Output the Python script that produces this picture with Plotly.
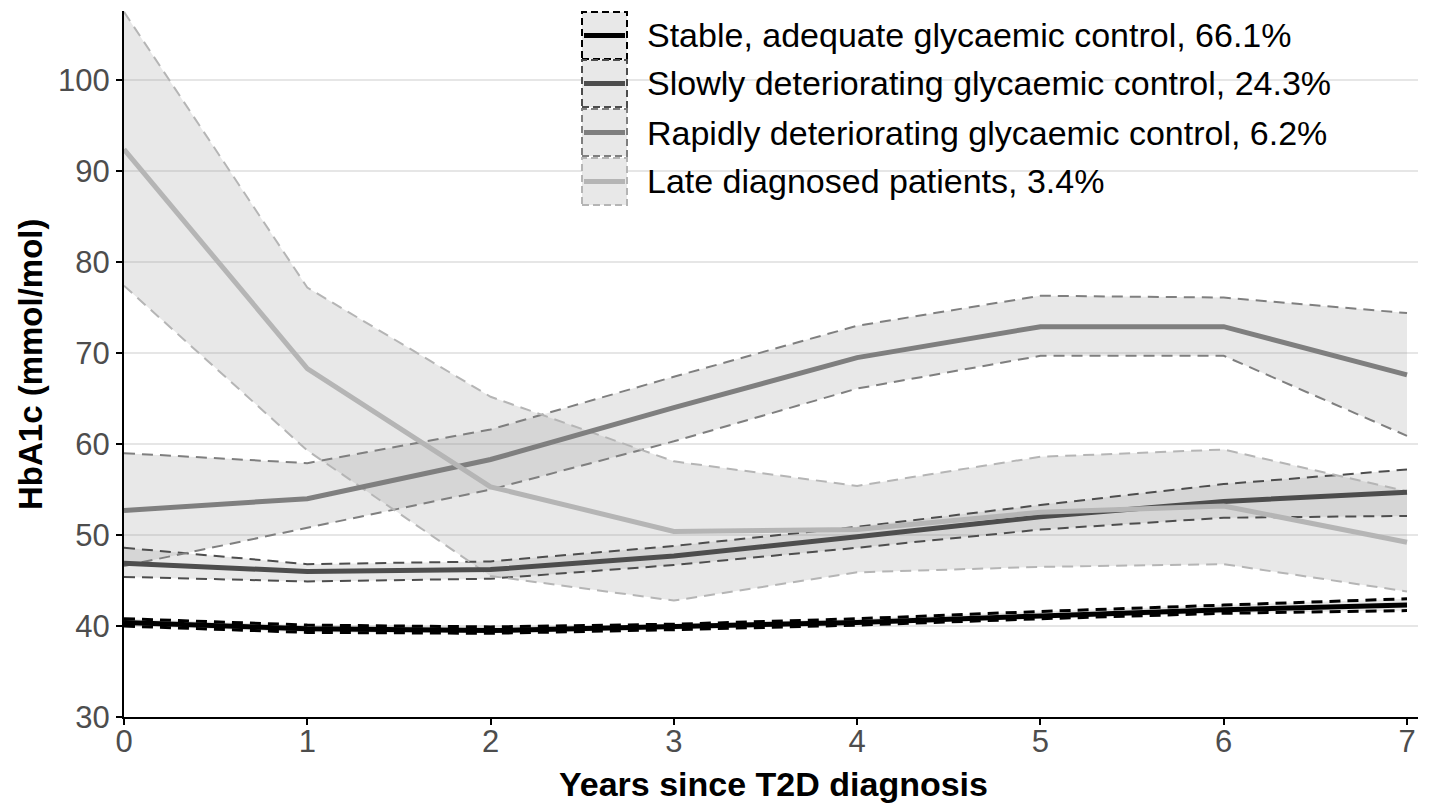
import plotly.graph_objects as go

years = [0, 1, 2, 3, 4, 5, 6, 7]

labels = [
    "Stable, adequate glycaemic control, 66.1%",
    "Slowly deteriorating glycaemic control, 24.3%",
    "Rapidly deteriorating glycaemic control, 6.2%",
    "Late diagnosed patients, 3.4%",
]
colors = ["#000000", "#4d4d4d", "#7f7f7f", "#b5b5b5"]

stable_mean = [40.4, 39.7, 39.5, 39.9, 40.4, 41.1, 41.8, 42.3]
stable_upper = [40.8, 40.1, 39.9, 40.2, 40.8, 41.6, 42.3, 43.0]
stable_lower = [40.0, 39.3, 39.2, 39.6, 40.1, 40.8, 41.4, 41.7]

slow_mean = [46.9, 46.0, 46.2, 47.7, 49.8, 52.0, 53.7, 54.7]
slow_upper = [48.6, 46.8, 47.1, 48.8, 50.9, 53.3, 55.6, 57.2]
slow_lower = [45.4, 44.9, 45.2, 46.7, 48.6, 50.6, 51.9, 52.1]

rapid_mean = [52.7, 54.0, 58.3, 64.0, 69.5, 72.9, 72.9, 67.6]
rapid_upper = [59.0, 57.9, 61.6, 67.4, 73.0, 76.3, 76.1, 74.4]
rapid_lower = [46.6, 50.8, 55.0, 60.3, 66.1, 69.7, 69.7, 60.9]

late_mean = [92.4, 68.3, 55.3, 50.4, 50.6, 52.5, 53.2, 49.2]
late_upper = [107.5, 77.2, 65.2, 58.1, 55.4, 58.6, 59.4, 54.8]
late_lower = [77.4, 59.3, 45.5, 42.8, 45.9, 46.5, 46.8, 43.8]

means = [stable_mean, slow_mean, rapid_mean, late_mean]
uppers = [stable_upper, slow_upper, rapid_upper, late_upper]
lowers = [stable_lower, slow_lower, rapid_lower, late_lower]

y_ticks = [30, 40, 50, 60, 70, 80, 90, 100]
x_ticks = [0, 1, 2, 3, 4, 5, 6, 7]

ribbon_fill = "rgba(150,150,150,0.22)"
FONT = "Liberation Sans, Arial, sans-serif"

fig = go.Figure()

# ribbons
for i in range(4):
    fig.add_trace(go.Scatter(
        x=years + years[::-1], y=uppers[i] + lowers[i][::-1],
        fill="toself", fillcolor=ribbon_fill, mode="lines",
        line=dict(width=0), hoverinfo="skip", showlegend=False))

# dashed CI bounds
for i in range(4):
    for arr in (uppers[i], lowers[i]):
        fig.add_trace(go.Scatter(
            x=years, y=arr, mode="lines",
            line=dict(color=colors[i], width=3 if i == 0 else 2,
                      dash="11px,7px"),
            showlegend=False, hoverinfo="skip"))

# mean lines
for i in range(4):
    fig.add_trace(go.Scatter(
        x=years, y=means[i], mode="lines", name=labels[i],
        line=dict(color=colors[i], width=5), showlegend=False))

# page has an 8px body margin: size the figure so the plot area lands
# where the reference has it
OFF = 8
W, H = 1421, 795
ml, mr, mt, mb = 116, 11, 3, 86
pw, ph = W - ml - mr, H - mt - mb


def px_to_paper(xs, ys):
    return (xs - OFF - ml) / pw, 1 - (ys - OFF - mt) / ph


shapes = []
annotations = []

key_x0, key_x1 = 582, 627
key_tops = [12, 60, 109, 158]
key_h = 47
for i in range(4):
    x0, y0 = px_to_paper(key_x0, key_tops[i])
    x1, y1 = px_to_paper(key_x1, key_tops[i] + key_h)
    shapes.append(dict(type="rect", xref="paper", yref="paper",
                       x0=x0, x1=x1, y0=y1, y1=y0,
                       fillcolor="#e8e8e8",
                       line=dict(color=colors[i], width=2, dash="7px,4px"),
                       layer="above"))
    ym = key_tops[i] + key_h / 2
    lx0, ly = px_to_paper(key_x0 + 2, ym)
    lx1, _ = px_to_paper(key_x1 - 2, ym)
    shapes.append(dict(type="line", xref="paper", yref="paper",
                       x0=lx0, x1=lx1, y0=ly, y1=ly,
                       line=dict(color=colors[i], width=5), layer="above"))
    tx, _ = px_to_paper(645, ym)
    annotations.append(dict(xref="paper", yref="paper", x=tx, y=ly,
                            text=labels[i], showarrow=False,
                            xanchor="left", yanchor="middle",
                            font=dict(size=34, color="#000000", family=FONT)))

# axis titles
tx, ty = px_to_paper(773, 784)
annotations.append(dict(xref="paper", yref="paper", x=tx, y=ty,
                        text="<b>Years since T2D diagnosis</b>",
                        showarrow=False, xanchor="center", yanchor="middle",
                        font=dict(size=34, color="black", family=FONT)))
tx, ty = px_to_paper(30, 364)
annotations.append(dict(xref="paper", yref="paper", x=tx, y=ty,
                        text="<b>HbA1c (mmol/mol)</b>", textangle=-90,
                        showarrow=False, xanchor="center", yanchor="middle",
                        font=dict(size=33, color="black", family=FONT)))

fig.update_layout(
    width=W, height=H,
    margin=dict(l=ml, r=mr, t=mt, b=mb),
    plot_bgcolor="white", paper_bgcolor="white",
    font=dict(family=FONT),
    shapes=shapes, annotations=annotations,
    showlegend=False,
    xaxis=dict(
        range=[0, 7.06], tickvals=x_ticks, automargin=False,
        showgrid=False, zeroline=False,
        showline=True, linecolor="black", linewidth=2,
        ticks="outside", tickcolor="black", tickwidth=2, ticklen=6,
        ticklabelstandoff=-10,
        tickfont=dict(size=31, color="#4d4d4d"),
    ),
    yaxis=dict(
        range=[30, 107.6], tickvals=y_ticks, automargin=False,
        showgrid=True, gridcolor="#e6e6e6", gridwidth=2, zeroline=False,
        showline=True, linecolor="black", linewidth=2,
        ticks="outside", tickcolor="black", tickwidth=2, ticklen=6,
        tickfont=dict(size=31, color="#4d4d4d"),
    ),
)

fig.write_html("out.html")
